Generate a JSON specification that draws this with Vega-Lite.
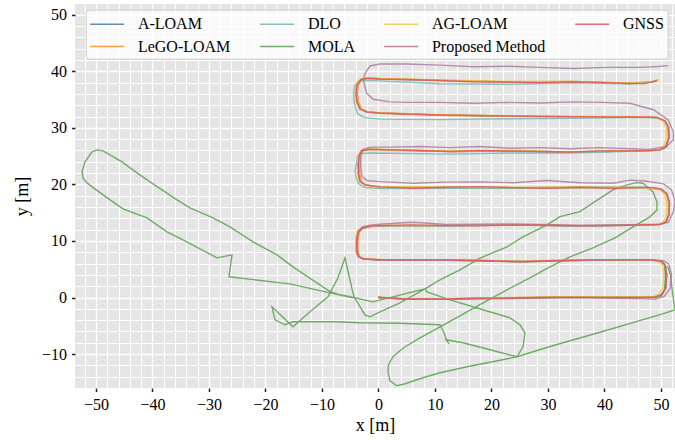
{
"$schema": "https://vega.github.io/schema/vega-lite/v6.json",
"width": 600, "height": 384,
"autosize": "none",
"padding": {"left": 75, "top": 4, "right": 0, "bottom": 52},
"background": "white",
"view": {"fill": "#E5E5E5", "stroke": null},
"config": {"font": "Liberation Serif"},
"datasets": {
"a": [
{"s":"A-LOAM","i":0,"x":0,"y":0},{"s":"A-LOAM","i":1,"x":4.35,"y":-0.28},{"s":"A-LOAM","i":2,"x":12.67,"y":-0.28},{"s":"A-LOAM","i":3,"x":22.4,"y":-0.1},{"s":"A-LOAM","i":4,"x":34.2,"y":0.07},{"s":"A-LOAM","i":5,"x":46.0,"y":0},{"s":"A-LOAM","i":6,"x":48.95,"y":0.12},{"s":"A-LOAM","i":7,"x":50.14,"y":0.48},{"s":"A-LOAM","i":8,"x":50.85,"y":1.66},{"s":"A-LOAM","i":9,"x":51.03,"y":4.0},{"s":"A-LOAM","i":10,"x":50.7,"y":5.8},{"s":"A-LOAM","i":11,"x":50.14,"y":6.36},{"s":"A-LOAM","i":12,"x":48.4,"y":6.66},{"s":"A-LOAM","i":13,"x":37.15,"y":6.66},{"s":"A-LOAM","i":14,"x":25.36,"y":6.36},{"s":"A-LOAM","i":15,"x":12.67,"y":6.66},{"s":"A-LOAM","i":16,"x":0.87,"y":6.66},{"s":"A-LOAM","i":17,"x":-2.67,"y":6.84},{"s":"A-LOAM","i":18,"x":-3.56,"y":7.24},{"s":"A-LOAM","i":19,"x":-3.84,"y":8.13},{"s":"A-LOAM","i":20,"x":-3.84,"y":10.2},{"s":"A-LOAM","i":21,"x":-3.6,"y":11.6},{"s":"A-LOAM","i":22,"x":-2.9,"y":12.3},{"s":"A-LOAM","i":23,"x":-1.49,"y":12.6},{"s":"A-LOAM","i":24,"x":0.28,"y":12.72},{"s":"A-LOAM","i":25,"x":12.09,"y":12.72},{"s":"A-LOAM","i":26,"x":23.88,"y":12.84},{"s":"A-LOAM","i":27,"x":35.68,"y":12.67},{"s":"A-LOAM","i":28,"x":47.49,"y":12.84},{"s":"A-LOAM","i":29,"x":49.84,"y":12.93},{"s":"A-LOAM","i":30,"x":50.9,"y":13.37},{"s":"A-LOAM","i":31,"x":51.43,"y":14.6},{"s":"A-LOAM","i":32,"x":51.52,"y":16.73},{"s":"A-LOAM","i":33,"x":51.08,"y":18.3},{"s":"A-LOAM","i":34,"x":50.0,"y":19.2},{"s":"A-LOAM","i":35,"x":47.7,"y":19.47},{"s":"A-LOAM","i":36,"x":35.68,"y":19.5},{"s":"A-LOAM","i":37,"x":23.88,"y":19.43},{"s":"A-LOAM","i":38,"x":12.09,"y":19.5},{"s":"A-LOAM","i":39,"x":0.28,"y":19.56},{"s":"A-LOAM","i":40,"x":-2.37,"y":19.91},{"s":"A-LOAM","i":41,"x":-3.26,"y":20.49},{"s":"A-LOAM","i":42,"x":-3.56,"y":21.98},{"s":"A-LOAM","i":43,"x":-3.56,"y":23.75},{"s":"A-LOAM","i":44,"x":-3.38,"y":25.21},{"s":"A-LOAM","i":45,"x":-2.96,"y":25.97},{"s":"A-LOAM","i":46,"x":-1.49,"y":26.22},{"s":"A-LOAM","i":47,"x":2.05,"y":26.1},{"s":"A-LOAM","i":48,"x":12.67,"y":25.83},{"s":"A-LOAM","i":49,"x":23.3,"y":25.92},{"s":"A-LOAM","i":50,"x":33.9,"y":25.74},{"s":"A-LOAM","i":51,"x":44.5,"y":25.92},{"s":"A-LOAM","i":52,"x":48.07,"y":26.0},{"s":"A-LOAM","i":53,"x":49.84,"y":26.1},{"s":"A-LOAM","i":54,"x":50.9,"y":26.63},{"s":"A-LOAM","i":55,"x":51.43,"y":28.22},{"s":"A-LOAM","i":56,"x":51.35,"y":30.16},{"s":"A-LOAM","i":57,"x":50.73,"y":31.22},{"s":"A-LOAM","i":58,"x":49.3,"y":31.84},{"s":"A-LOAM","i":59,"x":46.3,"y":31.93},{"s":"A-LOAM","i":60,"x":34.44,"y":31.98},{"s":"A-LOAM","i":61,"x":22.76,"y":32.1},{"s":"A-LOAM","i":62,"x":10.9,"y":32.28},{"s":"A-LOAM","i":63,"x":0.28,"y":32.63},{"s":"A-LOAM","i":64,"x":-2.02,"y":32.81},{"s":"A-LOAM","i":65,"x":-3.26,"y":33.34},{"s":"A-LOAM","i":66,"x":-3.79,"y":34.58},{"s":"A-LOAM","i":67,"x":-3.96,"y":36.17},{"s":"A-LOAM","i":68,"x":-3.79,"y":37.58},{"s":"A-LOAM","i":69,"x":-3.08,"y":38.55},{"s":"A-LOAM","i":70,"x":-1.84,"y":38.76},{"s":"A-LOAM","i":71,"x":0.28,"y":38.64},{"s":"A-LOAM","i":72,"x":10.9,"y":38.37},{"s":"A-LOAM","i":73,"x":22.76,"y":38.1},{"s":"A-LOAM","i":74,"x":34.5,"y":38.16},{"s":"A-LOAM","i":75,"x":44.5,"y":37.84},{"s":"A-LOAM","i":76,"x":48.4,"y":38.1},{"s":"A-LOAM","i":77,"x":49.3,"y":38.37},
{"s":"LeGO-LOAM","i":0,"x":0,"y":0},{"s":"LeGO-LOAM","i":1,"x":4.35,"y":-0.2},{"s":"LeGO-LOAM","i":2,"x":12.67,"y":-0.2},{"s":"LeGO-LOAM","i":3,"x":22.4,"y":-0.05},{"s":"LeGO-LOAM","i":4,"x":34.2,"y":0.1},{"s":"LeGO-LOAM","i":5,"x":46.0,"y":0.05},{"s":"LeGO-LOAM","i":6,"x":48.95,"y":0.15},{"s":"LeGO-LOAM","i":7,"x":50.1,"y":0.5},{"s":"LeGO-LOAM","i":8,"x":50.75,"y":1.66},{"s":"LeGO-LOAM","i":9,"x":50.9,"y":4.0},{"s":"LeGO-LOAM","i":10,"x":50.6,"y":5.8},{"s":"LeGO-LOAM","i":11,"x":50.1,"y":6.3},{"s":"LeGO-LOAM","i":12,"x":48.4,"y":6.6},{"s":"LeGO-LOAM","i":13,"x":37.15,"y":6.6},{"s":"LeGO-LOAM","i":14,"x":25.36,"y":6.3},{"s":"LeGO-LOAM","i":15,"x":12.67,"y":6.6},{"s":"LeGO-LOAM","i":16,"x":0.87,"y":6.6},{"s":"LeGO-LOAM","i":17,"x":-2.4,"y":6.8},{"s":"LeGO-LOAM","i":18,"x":-3.3,"y":7.2},{"s":"LeGO-LOAM","i":19,"x":-3.6,"y":8.1},{"s":"LeGO-LOAM","i":20,"x":-3.6,"y":10.2},{"s":"LeGO-LOAM","i":21,"x":-3.35,"y":11.6},{"s":"LeGO-LOAM","i":22,"x":-2.7,"y":12.25},{"s":"LeGO-LOAM","i":23,"x":-1.3,"y":12.55},{"s":"LeGO-LOAM","i":24,"x":0.28,"y":12.67},{"s":"LeGO-LOAM","i":25,"x":12.09,"y":12.67},{"s":"LeGO-LOAM","i":26,"x":23.88,"y":12.8},{"s":"LeGO-LOAM","i":27,"x":35.68,"y":12.62},{"s":"LeGO-LOAM","i":28,"x":47.49,"y":12.8},{"s":"LeGO-LOAM","i":29,"x":49.8,"y":12.9},{"s":"LeGO-LOAM","i":30,"x":50.8,"y":13.35},{"s":"LeGO-LOAM","i":31,"x":51.3,"y":14.6},{"s":"LeGO-LOAM","i":32,"x":51.4,"y":16.73},{"s":"LeGO-LOAM","i":33,"x":50.95,"y":18.3},{"s":"LeGO-LOAM","i":34,"x":49.9,"y":19.15},{"s":"LeGO-LOAM","i":35,"x":47.7,"y":19.42},{"s":"LeGO-LOAM","i":36,"x":35.68,"y":19.45},{"s":"LeGO-LOAM","i":37,"x":23.88,"y":19.38},{"s":"LeGO-LOAM","i":38,"x":12.09,"y":19.45},{"s":"LeGO-LOAM","i":39,"x":0.28,"y":19.5},{"s":"LeGO-LOAM","i":40,"x":-2.1,"y":19.85},{"s":"LeGO-LOAM","i":41,"x":-3.0,"y":20.45},{"s":"LeGO-LOAM","i":42,"x":-3.3,"y":21.98},{"s":"LeGO-LOAM","i":43,"x":-3.3,"y":23.75},{"s":"LeGO-LOAM","i":44,"x":-3.1,"y":25.2},{"s":"LeGO-LOAM","i":45,"x":-2.7,"y":25.95},{"s":"LeGO-LOAM","i":46,"x":-1.3,"y":26.2},{"s":"LeGO-LOAM","i":47,"x":2.05,"y":26.05},{"s":"LeGO-LOAM","i":48,"x":12.67,"y":25.8},{"s":"LeGO-LOAM","i":49,"x":23.3,"y":25.9},{"s":"LeGO-LOAM","i":50,"x":33.9,"y":25.72},{"s":"LeGO-LOAM","i":51,"x":44.5,"y":25.9},{"s":"LeGO-LOAM","i":52,"x":48.07,"y":25.98},{"s":"LeGO-LOAM","i":53,"x":49.8,"y":26.08},{"s":"LeGO-LOAM","i":54,"x":50.8,"y":26.6},{"s":"LeGO-LOAM","i":55,"x":51.3,"y":28.22},{"s":"LeGO-LOAM","i":56,"x":51.25,"y":30.16},{"s":"LeGO-LOAM","i":57,"x":50.63,"y":31.2},{"s":"LeGO-LOAM","i":58,"x":49.2,"y":31.8},{"s":"LeGO-LOAM","i":59,"x":46.3,"y":31.9},{"s":"LeGO-LOAM","i":60,"x":34.44,"y":31.95},{"s":"LeGO-LOAM","i":61,"x":22.76,"y":32.05},{"s":"LeGO-LOAM","i":62,"x":10.9,"y":32.22},{"s":"LeGO-LOAM","i":63,"x":0.28,"y":32.58},{"s":"LeGO-LOAM","i":64,"x":-1.8,"y":32.78},{"s":"LeGO-LOAM","i":65,"x":-3.0,"y":33.3},{"s":"LeGO-LOAM","i":66,"x":-3.5,"y":34.58},{"s":"LeGO-LOAM","i":67,"x":-3.7,"y":36.17},{"s":"LeGO-LOAM","i":68,"x":-3.55,"y":37.6},{"s":"LeGO-LOAM","i":69,"x":-2.85,"y":38.6},{"s":"LeGO-LOAM","i":70,"x":-1.6,"y":38.82},{"s":"LeGO-LOAM","i":71,"x":0.28,"y":38.72},{"s":"LeGO-LOAM","i":72,"x":10.9,"y":38.42},{"s":"LeGO-LOAM","i":73,"x":22.76,"y":38.15},{"s":"LeGO-LOAM","i":74,"x":34.5,"y":38.2},{"s":"LeGO-LOAM","i":75,"x":44.5,"y":37.9},{"s":"LeGO-LOAM","i":76,"x":48.4,"y":38.15},{"s":"LeGO-LOAM","i":77,"x":49.5,"y":38.45},
{"s":"DLO","i":0,"x":0,"y":0},{"s":"DLO","i":1,"x":4.35,"y":-0.25},{"s":"DLO","i":2,"x":12.67,"y":-0.25},{"s":"DLO","i":3,"x":22.4,"y":-0.1},{"s":"DLO","i":4,"x":34.2,"y":0.05},{"s":"DLO","i":5,"x":46.0,"y":0},{"s":"DLO","i":6,"x":48.95,"y":0.1},{"s":"DLO","i":7,"x":50.14,"y":0.45},{"s":"DLO","i":8,"x":50.85,"y":1.66},{"s":"DLO","i":9,"x":51.0,"y":4.0},{"s":"DLO","i":10,"x":50.65,"y":5.8},{"s":"DLO","i":11,"x":50.1,"y":6.35},{"s":"DLO","i":12,"x":48.4,"y":6.62},{"s":"DLO","i":13,"x":37.15,"y":6.6},{"s":"DLO","i":14,"x":25.36,"y":6.3},{"s":"DLO","i":15,"x":12.67,"y":6.6},{"s":"DLO","i":16,"x":0.87,"y":6.6},{"s":"DLO","i":17,"x":-2.7,"y":6.8},{"s":"DLO","i":18,"x":-3.6,"y":7.2},{"s":"DLO","i":19,"x":-3.9,"y":8.1},{"s":"DLO","i":20,"x":-3.9,"y":10.2},{"s":"DLO","i":21,"x":-3.65,"y":11.6},{"s":"DLO","i":22,"x":-2.95,"y":12.25},{"s":"DLO","i":23,"x":-1.5,"y":12.55},{"s":"DLO","i":24,"x":0.28,"y":12.68},{"s":"DLO","i":25,"x":12.09,"y":12.68},{"s":"DLO","i":26,"x":23.88,"y":12.8},{"s":"DLO","i":27,"x":35.68,"y":12.62},{"s":"DLO","i":28,"x":47.49,"y":12.8},{"s":"DLO","i":29,"x":49.84,"y":12.9},{"s":"DLO","i":30,"x":50.9,"y":13.35},{"s":"DLO","i":31,"x":51.43,"y":14.6},{"s":"DLO","i":32,"x":51.5,"y":16.73},{"s":"DLO","i":33,"x":51.05,"y":18.3},{"s":"DLO","i":34,"x":49.95,"y":19.15},{"s":"DLO","i":35,"x":47.7,"y":19.4},{"s":"DLO","i":36,"x":35.68,"y":19.4},{"s":"DLO","i":37,"x":23.88,"y":19.3},{"s":"DLO","i":38,"x":12.09,"y":19.3},{"s":"DLO","i":39,"x":0.28,"y":19.25},{"s":"DLO","i":40,"x":-2.5,"y":19.5},{"s":"DLO","i":41,"x":-3.6,"y":20.2},{"s":"DLO","i":42,"x":-4.0,"y":21.5},{"s":"DLO","i":43,"x":-4.1,"y":22.5},{"s":"DLO","i":44,"x":-3.84,"y":23.75},{"s":"DLO","i":45,"x":-3.75,"y":25.0},{"s":"DLO","i":46,"x":-3.3,"y":25.45},{"s":"DLO","i":47,"x":-1.5,"y":25.55},{"s":"DLO","i":48,"x":2.05,"y":25.5},{"s":"DLO","i":49,"x":12.67,"y":25.35},{"s":"DLO","i":50,"x":23.3,"y":25.55},{"s":"DLO","i":51,"x":33.9,"y":25.55},{"s":"DLO","i":52,"x":44.5,"y":25.85},{"s":"DLO","i":53,"x":48.07,"y":25.98},{"s":"DLO","i":54,"x":49.84,"y":26.08},{"s":"DLO","i":55,"x":50.9,"y":26.6},{"s":"DLO","i":56,"x":51.43,"y":28.22},{"s":"DLO","i":57,"x":51.35,"y":30.16},{"s":"DLO","i":58,"x":50.73,"y":31.2},{"s":"DLO","i":59,"x":49.3,"y":31.8},{"s":"DLO","i":60,"x":46.3,"y":31.85},{"s":"DLO","i":61,"x":34.44,"y":31.7},{"s":"DLO","i":62,"x":22.76,"y":31.6},{"s":"DLO","i":63,"x":10.9,"y":31.45},{"s":"DLO","i":64,"x":0.28,"y":31.55},{"s":"DLO","i":65,"x":-2.4,"y":31.8},{"s":"DLO","i":66,"x":-3.7,"y":32.5},{"s":"DLO","i":67,"x":-4.25,"y":34.3},{"s":"DLO","i":68,"x":-4.4,"y":36.17},{"s":"DLO","i":69,"x":-4.2,"y":37.5},{"s":"DLO","i":70,"x":-3.5,"y":38.3},{"s":"DLO","i":71,"x":-2.1,"y":38.4},{"s":"DLO","i":72,"x":0.28,"y":38.3},{"s":"DLO","i":73,"x":10.9,"y":37.8},{"s":"DLO","i":74,"x":22.76,"y":37.7},{"s":"DLO","i":75,"x":34.5,"y":37.95},{"s":"DLO","i":76,"x":44.5,"y":37.8},{"s":"DLO","i":77,"x":48.4,"y":38.08},{"s":"DLO","i":78,"x":49.3,"y":38.35},
{"s":"MOLA","i":0,"x":0,"y":0},{"s":"MOLA","i":1,"x":4.35,"y":-0.19},{"s":"MOLA","i":2,"x":12.67,"y":-0.19},{"s":"MOLA","i":3,"x":22.41,"y":-0.09},{"s":"MOLA","i":4,"x":34.09,"y":0.07},{"s":"MOLA","i":5,"x":45.95,"y":0.04},{"s":"MOLA","i":6,"x":48.96,"y":0.04},{"s":"MOLA","i":7,"x":50.05,"y":0.3},{"s":"MOLA","i":8,"x":50.64,"y":1.36},{"s":"MOLA","i":9,"x":50.81,"y":3.48},{"s":"MOLA","i":10,"x":50.73,"y":5.42},{"s":"MOLA","i":11,"x":51.26,"y":5.34},{"s":"MOLA","i":12,"x":51.7,"y":4.01},{"s":"MOLA","i":13,"x":51.96,"y":1.71},{"s":"MOLA","i":14,"x":52.23,"y":-0.41},{"s":"MOLA","i":15,"x":52.5,"y":-2.17},{"s":"MOLA","i":16,"x":50.73,"y":-2.76},{"s":"MOLA","i":17,"x":47.77,"y":-3.64},{"s":"MOLA","i":18,"x":39.22,"y":-6.15},{"s":"MOLA","i":19,"x":30.37,"y":-8.66},{"s":"MOLA","i":20,"x":24.53,"y":-10.48},{"s":"MOLA","i":21,"x":19.75,"y":-11.45},{"s":"MOLA","i":22,"x":15.68,"y":-12.24},{"s":"MOLA","i":23,"x":10.9,"y":-13.3},{"s":"MOLA","i":24,"x":7.89,"y":-14.19},{"s":"MOLA","i":25,"x":4.71,"y":-15.25},{"s":"MOLA","i":26,"x":3.29,"y":-15.6},{"s":"MOLA","i":27,"x":2.05,"y":-14.72},{"s":"MOLA","i":28,"x":1.7,"y":-13.13},{"s":"MOLA","i":29,"x":1.79,"y":-11.89},{"s":"MOLA","i":30,"x":2.58,"y":-10.48},{"s":"MOLA","i":31,"x":3.82,"y":-9.42},{"s":"MOLA","i":32,"x":4.71,"y":-8.71},{"s":"MOLA","i":33,"x":7.36,"y":-7.12},{"s":"MOLA","i":34,"x":10.9,"y":-5.18},{"s":"MOLA","i":35,"x":14.44,"y":-3.23},{"s":"MOLA","i":36,"x":18.51,"y":-0.94},{"s":"MOLA","i":37,"x":22.76,"y":1.36},{"s":"MOLA","i":38,"x":26.83,"y":3.48},{"s":"MOLA","i":39,"x":30.02,"y":5.25},{"s":"MOLA","i":40,"x":33.91,"y":7.19},{"s":"MOLA","i":41,"x":37.98,"y":8.78},{"s":"MOLA","i":42,"x":41.88,"y":10.55},{"s":"MOLA","i":43,"x":45.06,"y":12.49},{"s":"MOLA","i":44,"x":48.07,"y":14.26},{"s":"MOLA","i":45,"x":49.31,"y":15.49},{"s":"MOLA","i":46,"x":49.31,"y":16.91},{"s":"MOLA","i":47,"x":48.6,"y":18.67},{"s":"MOLA","i":48,"x":46.83,"y":20.21},{"s":"MOLA","i":49,"x":45.77,"y":20.32},{"s":"MOLA","i":50,"x":44.0,"y":19.91},{"s":"MOLA","i":51,"x":41.52,"y":19.03},{"s":"MOLA","i":52,"x":37.98,"y":16.73},{"s":"MOLA","i":53,"x":35.68,"y":15.19},{"s":"MOLA","i":54,"x":32.14,"y":14.31},{"s":"MOLA","i":55,"x":29.84,"y":12.84},{"s":"MOLA","i":56,"x":25.59,"y":10.72},{"s":"MOLA","i":57,"x":22.76,"y":8.96},{"s":"MOLA","i":58,"x":17.98,"y":6.96},{"s":"MOLA","i":59,"x":14.44,"y":4.89},{"s":"MOLA","i":60,"x":10.9,"y":3.13},{"s":"MOLA","i":61,"x":8.25,"y":1.54},{"s":"MOLA","i":62,"x":3.82,"y":-0.94},{"s":"MOLA","i":63,"x":0.28,"y":-2.53},{"s":"MOLA","i":64,"x":-1.49,"y":-3.41},{"s":"MOLA","i":65,"x":-2.37,"y":-3.06},{"s":"MOLA","i":66,"x":-4.32,"y":0.12},{"s":"MOLA","i":67,"x":-4.67,"y":1.54},{"s":"MOLA","i":68,"x":-5.91,"y":7.01},{"s":"MOLA","i":69,"x":-7.15,"y":3.48},{"s":"MOLA","i":70,"x":-8.92,"y":0.12},{"s":"MOLA","i":71,"x":-12.11,"y":-2.53},{"s":"MOLA","i":72,"x":-15.12,"y":-5.18},{"s":"MOLA","i":73,"x":-18.83,"y":-1.64},{"s":"MOLA","i":74,"x":-18.3,"y":-3.94},{"s":"MOLA","i":75,"x":-16.53,"y":-4.82},{"s":"MOLA","i":76,"x":-15.12,"y":-4.29},{"s":"MOLA","i":77,"x":-7.33,"y":-4.29},{"s":"MOLA","i":78,"x":-3.26,"y":-4.47},{"s":"MOLA","i":79,"x":3.82,"y":-4.56},{"s":"MOLA","i":80,"x":10.9,"y":-4.82},{"s":"MOLA","i":81,"x":11.61,"y":-6.24},{"s":"MOLA","i":82,"x":12.14,"y":-7.65},{"s":"MOLA","i":83,"x":12.49,"y":-8.18},{"s":"MOLA","i":84,"x":11.96,"y":-7.47},{"s":"MOLA","i":85,"x":14.97,"y":-8.0},{"s":"MOLA","i":86,"x":19.75,"y":-9.24},{"s":"MOLA","i":87,"x":24.53,"y":-10.48},{"s":"MOLA","i":88,"x":25.59,"y":-8.71},{"s":"MOLA","i":89,"x":25.95,"y":-6.24},{"s":"MOLA","i":90,"x":25.06,"y":-4.82},{"s":"MOLA","i":91,"x":23.29,"y":-3.59},{"s":"MOLA","i":92,"x":18.51,"y":-2.17},{"s":"MOLA","i":93,"x":12.67,"y":-0.41},{"s":"MOLA","i":94,"x":8.6,"y":1.01},{"s":"MOLA","i":95,"x":8.25,"y":1.54},{"s":"MOLA","i":96,"x":-0.96,"y":-0.76},{"s":"MOLA","i":97,"x":-4.14,"y":-0.05},{"s":"MOLA","i":98,"x":-6.8,"y":0.48},{"s":"MOLA","i":99,"x":-8.57,"y":1.06},{"s":"MOLA","i":100,"x":-15.12,"y":5.42},{"s":"MOLA","i":101,"x":-17.95,"y":7.54},{"s":"MOLA","i":102,"x":-22.19,"y":9.84},{"s":"MOLA","i":103,"x":-26.27,"y":12.49},{"s":"MOLA","i":104,"x":-29.27,"y":14.08},{"s":"MOLA","i":105,"x":-33.35,"y":15.85},{"s":"MOLA","i":106,"x":-35.65,"y":17.26},{"s":"MOLA","i":107,"x":-40.42,"y":20.44},{"s":"MOLA","i":108,"x":-42.73,"y":22.03},{"s":"MOLA","i":109,"x":-45.38,"y":23.98},{"s":"MOLA","i":110,"x":-48.74,"y":25.92},{"s":"MOLA","i":111,"x":-49.81,"y":26.1},{"s":"MOLA","i":112,"x":-50.69,"y":25.74},{"s":"MOLA","i":113,"x":-51.93,"y":23.98},{"s":"MOLA","i":114,"x":-52.46,"y":22.21},{"s":"MOLA","i":115,"x":-52.28,"y":21.15},{"s":"MOLA","i":116,"x":-51.58,"y":20.27},{"s":"MOLA","i":117,"x":-48.74,"y":18.14},{"s":"MOLA","i":118,"x":-45.2,"y":15.67},{"s":"MOLA","i":119,"x":-40.96,"y":14.08},{"s":"MOLA","i":120,"x":-37.42,"y":11.61},{"s":"MOLA","i":121,"x":-34.58,"y":10.19},{"s":"MOLA","i":122,"x":-28.57,"y":7.01},{"s":"MOLA","i":123,"x":-25.91,"y":7.54},{"s":"MOLA","i":124,"x":-26.44,"y":3.66},{"s":"MOLA","i":125,"x":-15.65,"y":2.42},{"s":"MOLA","i":126,"x":-8.57,"y":0.83},{"s":"MOLA","i":127,"x":-4.5,"y":-0.05},
{"s":"AG-LOAM","i":0,"x":0,"y":0},{"s":"AG-LOAM","i":1,"x":4.35,"y":-0.15},{"s":"AG-LOAM","i":2,"x":12.67,"y":-0.15},{"s":"AG-LOAM","i":3,"x":22.4,"y":0},{"s":"AG-LOAM","i":4,"x":34.2,"y":0.15},{"s":"AG-LOAM","i":5,"x":46.0,"y":0.1},{"s":"AG-LOAM","i":6,"x":48.7,"y":0.2},{"s":"AG-LOAM","i":7,"x":49.7,"y":0.6},{"s":"AG-LOAM","i":8,"x":50.35,"y":1.7},{"s":"AG-LOAM","i":9,"x":50.5,"y":4.0},{"s":"AG-LOAM","i":10,"x":50.25,"y":5.7},{"s":"AG-LOAM","i":11,"x":49.8,"y":6.3},{"s":"AG-LOAM","i":12,"x":48.4,"y":6.6},{"s":"AG-LOAM","i":13,"x":37.15,"y":6.7},{"s":"AG-LOAM","i":14,"x":25.36,"y":6.4},{"s":"AG-LOAM","i":15,"x":12.67,"y":6.7},{"s":"AG-LOAM","i":16,"x":0.87,"y":6.7},{"s":"AG-LOAM","i":17,"x":-2.8,"y":6.9},{"s":"AG-LOAM","i":18,"x":-3.7,"y":7.3},{"s":"AG-LOAM","i":19,"x":-4.0,"y":8.2},{"s":"AG-LOAM","i":20,"x":-4.0,"y":10.2},{"s":"AG-LOAM","i":21,"x":-3.75,"y":11.65},{"s":"AG-LOAM","i":22,"x":-3.05,"y":12.35},{"s":"AG-LOAM","i":23,"x":-1.6,"y":12.65},{"s":"AG-LOAM","i":24,"x":0.28,"y":12.78},{"s":"AG-LOAM","i":25,"x":12.09,"y":12.78},{"s":"AG-LOAM","i":26,"x":23.88,"y":12.9},{"s":"AG-LOAM","i":27,"x":35.68,"y":12.72},{"s":"AG-LOAM","i":28,"x":47.49,"y":12.88},{"s":"AG-LOAM","i":29,"x":49.6,"y":12.95},{"s":"AG-LOAM","i":30,"x":50.5,"y":13.4},{"s":"AG-LOAM","i":31,"x":51.0,"y":14.6},{"s":"AG-LOAM","i":32,"x":51.05,"y":16.73},{"s":"AG-LOAM","i":33,"x":50.65,"y":18.3},{"s":"AG-LOAM","i":34,"x":49.7,"y":19.15},{"s":"AG-LOAM","i":35,"x":47.7,"y":19.42},{"s":"AG-LOAM","i":36,"x":35.68,"y":19.55},{"s":"AG-LOAM","i":37,"x":23.88,"y":19.5},{"s":"AG-LOAM","i":38,"x":12.09,"y":19.55},{"s":"AG-LOAM","i":39,"x":0.28,"y":19.62},{"s":"AG-LOAM","i":40,"x":-2.5,"y":19.95},{"s":"AG-LOAM","i":41,"x":-3.4,"y":20.55},{"s":"AG-LOAM","i":42,"x":-3.7,"y":21.98},{"s":"AG-LOAM","i":43,"x":-3.7,"y":23.75},{"s":"AG-LOAM","i":44,"x":-3.5,"y":25.25},{"s":"AG-LOAM","i":45,"x":-3.1,"y":26.02},{"s":"AG-LOAM","i":46,"x":-1.6,"y":26.3},{"s":"AG-LOAM","i":47,"x":2.05,"y":26.15},{"s":"AG-LOAM","i":48,"x":12.67,"y":25.9},{"s":"AG-LOAM","i":49,"x":23.3,"y":25.98},{"s":"AG-LOAM","i":50,"x":33.9,"y":25.8},{"s":"AG-LOAM","i":51,"x":44.5,"y":25.95},{"s":"AG-LOAM","i":52,"x":48.07,"y":26.05},{"s":"AG-LOAM","i":53,"x":49.6,"y":26.15},{"s":"AG-LOAM","i":54,"x":50.5,"y":26.65},{"s":"AG-LOAM","i":55,"x":51.0,"y":28.22},{"s":"AG-LOAM","i":56,"x":50.95,"y":30.16},{"s":"AG-LOAM","i":57,"x":50.4,"y":31.2},{"s":"AG-LOAM","i":58,"x":49.1,"y":31.85},{"s":"AG-LOAM","i":59,"x":46.3,"y":31.98},{"s":"AG-LOAM","i":60,"x":34.44,"y":32.05},{"s":"AG-LOAM","i":61,"x":22.76,"y":32.15},{"s":"AG-LOAM","i":62,"x":10.9,"y":32.33},{"s":"AG-LOAM","i":63,"x":0.28,"y":32.7},{"s":"AG-LOAM","i":64,"x":-2.15,"y":32.88},{"s":"AG-LOAM","i":65,"x":-3.4,"y":33.4},{"s":"AG-LOAM","i":66,"x":-3.95,"y":34.58},{"s":"AG-LOAM","i":67,"x":-4.1,"y":36.17},{"s":"AG-LOAM","i":68,"x":-3.95,"y":37.6},{"s":"AG-LOAM","i":69,"x":-3.2,"y":38.65},{"s":"AG-LOAM","i":70,"x":-1.95,"y":38.88},{"s":"AG-LOAM","i":71,"x":0.28,"y":38.75},{"s":"AG-LOAM","i":72,"x":10.9,"y":38.45},{"s":"AG-LOAM","i":73,"x":22.76,"y":38.2},{"s":"AG-LOAM","i":74,"x":34.5,"y":38.22},{"s":"AG-LOAM","i":75,"x":44.5,"y":37.92},{"s":"AG-LOAM","i":76,"x":48.6,"y":38.2},{"s":"AG-LOAM","i":77,"x":49.7,"y":38.55},
{"s":"Proposed Method","i":0,"x":0,"y":0},{"s":"Proposed Method","i":1,"x":4.35,"y":-0.2},{"s":"Proposed Method","i":2,"x":12.67,"y":-0.3},{"s":"Proposed Method","i":3,"x":22.4,"y":-0.2},{"s":"Proposed Method","i":4,"x":34.2,"y":-0.05},{"s":"Proposed Method","i":5,"x":46.0,"y":-0.2},{"s":"Proposed Method","i":6,"x":49.0,"y":-0.25},{"s":"Proposed Method","i":7,"x":50.6,"y":0.2},{"s":"Proposed Method","i":8,"x":51.6,"y":1.6},{"s":"Proposed Method","i":9,"x":51.9,"y":4.0},{"s":"Proposed Method","i":10,"x":51.4,"y":5.9},{"s":"Proposed Method","i":11,"x":50.5,"y":6.5},{"s":"Proposed Method","i":12,"x":48.4,"y":6.7},{"s":"Proposed Method","i":13,"x":37.15,"y":6.6},{"s":"Proposed Method","i":14,"x":25.36,"y":6.3},{"s":"Proposed Method","i":15,"x":12.67,"y":6.6},{"s":"Proposed Method","i":16,"x":0.87,"y":6.6},{"s":"Proposed Method","i":17,"x":-2.67,"y":6.8},{"s":"Proposed Method","i":18,"x":-3.5,"y":7.3},{"s":"Proposed Method","i":19,"x":-3.8,"y":8.2},{"s":"Proposed Method","i":20,"x":-3.8,"y":10.3},{"s":"Proposed Method","i":21,"x":-3.5,"y":11.8},{"s":"Proposed Method","i":22,"x":-2.8,"y":12.5},{"s":"Proposed Method","i":23,"x":-1.49,"y":12.8},{"s":"Proposed Method","i":24,"x":0.28,"y":12.95},{"s":"Proposed Method","i":25,"x":6.0,"y":13.3},{"s":"Proposed Method","i":26,"x":12.09,"y":12.9},{"s":"Proposed Method","i":27,"x":23.88,"y":13.0},{"s":"Proposed Method","i":28,"x":35.68,"y":12.8},{"s":"Proposed Method","i":29,"x":47.49,"y":12.9},{"s":"Proposed Method","i":30,"x":49.84,"y":12.95},{"s":"Proposed Method","i":31,"x":51.3,"y":13.3},{"s":"Proposed Method","i":32,"x":52.2,"y":15.1},{"s":"Proposed Method","i":33,"x":52.5,"y":17.0},{"s":"Proposed Method","i":34,"x":51.9,"y":19.0},{"s":"Proposed Method","i":35,"x":50.5,"y":20.1},{"s":"Proposed Method","i":36,"x":47.2,"y":20.6},{"s":"Proposed Method","i":37,"x":44.5,"y":20.75},{"s":"Proposed Method","i":38,"x":41.58,"y":20.2},{"s":"Proposed Method","i":39,"x":35.68,"y":20.3},{"s":"Proposed Method","i":40,"x":29.8,"y":20.7},{"s":"Proposed Method","i":41,"x":23.88,"y":20.3},{"s":"Proposed Method","i":42,"x":17.98,"y":20.45},{"s":"Proposed Method","i":43,"x":12.09,"y":20.4},{"s":"Proposed Method","i":44,"x":6.18,"y":20.2},{"s":"Proposed Method","i":45,"x":0.28,"y":20.5},{"s":"Proposed Method","i":46,"x":-2.0,"y":20.7},{"s":"Proposed Method","i":47,"x":-2.9,"y":21.4},{"s":"Proposed Method","i":48,"x":-3.13,"y":23.0},{"s":"Proposed Method","i":49,"x":-3.13,"y":25.0},{"s":"Proposed Method","i":50,"x":-2.7,"y":26.2},{"s":"Proposed Method","i":51,"x":-1.5,"y":26.6},{"s":"Proposed Method","i":52,"x":2.05,"y":26.6},{"s":"Proposed Method","i":53,"x":7.4,"y":26.7},{"s":"Proposed Method","i":54,"x":12.67,"y":26.5},{"s":"Proposed Method","i":55,"x":17.98,"y":26.7},{"s":"Proposed Method","i":56,"x":23.3,"y":26.4},{"s":"Proposed Method","i":57,"x":28.6,"y":26.5},{"s":"Proposed Method","i":58,"x":33.9,"y":26.3},{"s":"Proposed Method","i":59,"x":39.2,"y":26.5},{"s":"Proposed Method","i":60,"x":44.5,"y":26.3},{"s":"Proposed Method","i":61,"x":48.0,"y":26.2},{"s":"Proposed Method","i":62,"x":51.0,"y":26.7},{"s":"Proposed Method","i":63,"x":52.2,"y":27.9},{"s":"Proposed Method","i":64,"x":52.2,"y":29.3},{"s":"Proposed Method","i":65,"x":51.3,"y":31.4},{"s":"Proposed Method","i":66,"x":48.7,"y":33.2},{"s":"Proposed Method","i":67,"x":44.5,"y":34.35},{"s":"Proposed Method","i":68,"x":39.5,"y":34.5},{"s":"Proposed Method","i":69,"x":34.5,"y":34.6},{"s":"Proposed Method","i":70,"x":28.6,"y":34.4},{"s":"Proposed Method","i":71,"x":22.76,"y":34.5},{"s":"Proposed Method","i":72,"x":16.8,"y":34.35},{"s":"Proposed Method","i":73,"x":10.9,"y":34.5},{"s":"Proposed Method","i":74,"x":5.0,"y":34.5},{"s":"Proposed Method","i":75,"x":2.05,"y":34.6},{"s":"Proposed Method","i":76,"x":-0.9,"y":35.05},{"s":"Proposed Method","i":77,"x":-2.07,"y":36.1},{"s":"Proposed Method","i":78,"x":-2.67,"y":38.46},{"s":"Proposed Method","i":79,"x":-2.37,"y":39.65},{"s":"Proposed Method","i":80,"x":-1.49,"y":40.94},{"s":"Proposed Method","i":81,"x":0.28,"y":41.3},{"s":"Proposed Method","i":82,"x":5.0,"y":41.3},{"s":"Proposed Method","i":83,"x":10.9,"y":41.1},{"s":"Proposed Method","i":84,"x":16.8,"y":40.8},{"s":"Proposed Method","i":85,"x":22.76,"y":40.9},{"s":"Proposed Method","i":86,"x":28.6,"y":40.7},{"s":"Proposed Method","i":87,"x":34.5,"y":40.5},{"s":"Proposed Method","i":88,"x":40.4,"y":40.7},{"s":"Proposed Method","i":89,"x":46.3,"y":40.7},{"s":"Proposed Method","i":90,"x":49.5,"y":40.85},{"s":"Proposed Method","i":91,"x":51.3,"y":41.0},
{"s":"GNSS","i":0,"x":0,"y":0},{"s":"GNSS","i":1,"x":0.3,"y":0.07},{"s":"GNSS","i":2,"x":4.35,"y":-0.28},{"s":"GNSS","i":3,"x":8.55,"y":-0.28},{"s":"GNSS","i":4,"x":12.67,"y":-0.28},{"s":"GNSS","i":5,"x":16.8,"y":-0.1},{"s":"GNSS","i":6,"x":22.4,"y":-0.1},{"s":"GNSS","i":7,"x":28.25,"y":0},{"s":"GNSS","i":8,"x":34.2,"y":0.07},{"s":"GNSS","i":9,"x":40.1,"y":0},{"s":"GNSS","i":10,"x":46.0,"y":0},{"s":"GNSS","i":11,"x":48.95,"y":0.12},{"s":"GNSS","i":12,"x":50.14,"y":0.48},{"s":"GNSS","i":13,"x":50.85,"y":1.66},{"s":"GNSS","i":14,"x":51.03,"y":4.0},{"s":"GNSS","i":15,"x":50.7,"y":5.8},{"s":"GNSS","i":16,"x":50.14,"y":6.36},{"s":"GNSS","i":17,"x":48.4,"y":6.66},{"s":"GNSS","i":18,"x":43.06,"y":6.66},{"s":"GNSS","i":19,"x":37.15,"y":6.66},{"s":"GNSS","i":20,"x":31.26,"y":6.54},{"s":"GNSS","i":21,"x":25.36,"y":6.36},{"s":"GNSS","i":22,"x":18.57,"y":6.54},{"s":"GNSS","i":23,"x":12.67,"y":6.66},{"s":"GNSS","i":24,"x":6.78,"y":6.66},{"s":"GNSS","i":25,"x":0.87,"y":6.66},{"s":"GNSS","i":26,"x":-2.67,"y":6.84},{"s":"GNSS","i":27,"x":-3.56,"y":7.24},{"s":"GNSS","i":28,"x":-3.84,"y":8.13},{"s":"GNSS","i":29,"x":-3.84,"y":10.2},{"s":"GNSS","i":30,"x":-3.6,"y":11.6},{"s":"GNSS","i":31,"x":-2.9,"y":12.3},{"s":"GNSS","i":32,"x":-1.49,"y":12.6},{"s":"GNSS","i":33,"x":0.28,"y":12.72},{"s":"GNSS","i":34,"x":6.18,"y":12.84},{"s":"GNSS","i":35,"x":12.09,"y":12.72},{"s":"GNSS","i":36,"x":17.98,"y":12.67},{"s":"GNSS","i":37,"x":23.88,"y":12.84},{"s":"GNSS","i":38,"x":29.79,"y":12.79},{"s":"GNSS","i":39,"x":35.68,"y":12.67},{"s":"GNSS","i":40,"x":41.58,"y":12.72},{"s":"GNSS","i":41,"x":47.49,"y":12.84},{"s":"GNSS","i":42,"x":49.84,"y":12.93},{"s":"GNSS","i":43,"x":50.9,"y":13.37},{"s":"GNSS","i":44,"x":51.43,"y":14.6},{"s":"GNSS","i":45,"x":51.52,"y":16.73},{"s":"GNSS","i":46,"x":51.08,"y":18.3},{"s":"GNSS","i":47,"x":50.0,"y":19.2},{"s":"GNSS","i":48,"x":47.7,"y":19.47},{"s":"GNSS","i":49,"x":41.58,"y":19.33},{"s":"GNSS","i":50,"x":35.68,"y":19.5},{"s":"GNSS","i":51,"x":29.79,"y":19.33},{"s":"GNSS","i":52,"x":23.88,"y":19.43},{"s":"GNSS","i":53,"x":17.98,"y":19.61},{"s":"GNSS","i":54,"x":12.09,"y":19.5},{"s":"GNSS","i":55,"x":6.18,"y":19.33},{"s":"GNSS","i":56,"x":0.28,"y":19.56},{"s":"GNSS","i":57,"x":-2.37,"y":19.91},{"s":"GNSS","i":58,"x":-3.26,"y":20.49},{"s":"GNSS","i":59,"x":-3.56,"y":21.98},{"s":"GNSS","i":60,"x":-3.56,"y":23.75},{"s":"GNSS","i":61,"x":-3.38,"y":25.21},{"s":"GNSS","i":62,"x":-2.96,"y":25.97},{"s":"GNSS","i":63,"x":-1.49,"y":26.22},{"s":"GNSS","i":64,"x":2.05,"y":26.1},{"s":"GNSS","i":65,"x":7.36,"y":26.0},{"s":"GNSS","i":66,"x":12.67,"y":25.83},{"s":"GNSS","i":67,"x":17.98,"y":26.0},{"s":"GNSS","i":68,"x":23.3,"y":25.92},{"s":"GNSS","i":69,"x":28.6,"y":25.83},{"s":"GNSS","i":70,"x":33.9,"y":25.74},{"s":"GNSS","i":71,"x":39.2,"y":25.92},{"s":"GNSS","i":72,"x":44.5,"y":25.92},{"s":"GNSS","i":73,"x":48.07,"y":26.0},{"s":"GNSS","i":74,"x":49.84,"y":26.1},{"s":"GNSS","i":75,"x":50.9,"y":26.63},{"s":"GNSS","i":76,"x":51.43,"y":28.22},{"s":"GNSS","i":77,"x":51.35,"y":30.16},{"s":"GNSS","i":78,"x":50.73,"y":31.22},{"s":"GNSS","i":79,"x":49.3,"y":31.84},{"s":"GNSS","i":80,"x":46.3,"y":31.93},{"s":"GNSS","i":81,"x":40.99,"y":31.93},{"s":"GNSS","i":82,"x":34.44,"y":31.98},{"s":"GNSS","i":83,"x":28.6,"y":32.01},{"s":"GNSS","i":84,"x":22.76,"y":32.1},{"s":"GNSS","i":85,"x":17.1,"y":32.19},{"s":"GNSS","i":86,"x":10.9,"y":32.28},{"s":"GNSS","i":87,"x":4.7,"y":32.46},{"s":"GNSS","i":88,"x":0.28,"y":32.63},{"s":"GNSS","i":89,"x":-2.02,"y":32.81},{"s":"GNSS","i":90,"x":-3.26,"y":33.34},{"s":"GNSS","i":91,"x":-3.79,"y":34.58},{"s":"GNSS","i":92,"x":-3.96,"y":36.17},{"s":"GNSS","i":93,"x":-3.79,"y":37.58},{"s":"GNSS","i":94,"x":-3.08,"y":38.55},{"s":"GNSS","i":95,"x":-1.84,"y":38.76},{"s":"GNSS","i":96,"x":0.28,"y":38.64},{"s":"GNSS","i":97,"x":5.0,"y":38.55},{"s":"GNSS","i":98,"x":10.9,"y":38.37},{"s":"GNSS","i":99,"x":16.8,"y":38.16},{"s":"GNSS","i":100,"x":22.76,"y":38.1},{"s":"GNSS","i":101,"x":28.6,"y":37.99},{"s":"GNSS","i":102,"x":34.5,"y":38.16},{"s":"GNSS","i":103,"x":40.4,"y":37.99},{"s":"GNSS","i":104,"x":44.5,"y":37.84},{"s":"GNSS","i":105,"x":47.15,"y":37.84},{"s":"GNSS","i":106,"x":48.4,"y":38.1},{"s":"GNSS","i":107,"x":49.3,"y":38.37}
]
},
"data": {"name": "a"},
"mark": {"type": "line", "strokeWidth": 1.4, "opacity": 0.85, "clip": true},
"encoding": {
"x": {"field": "x", "type": "quantitative",
 "scale": {"domain": [-53.7, 52.5], "nice": false, "zero": false},
 "axis": {"title": "x [m]",
  "values": [-52,-50,-48,-46,-44,-42,-40,-38,-36,-34,-32,-30,-28,-26,-24,-22,-20,-18,-16,-14,-12,-10,-8,-6,-4,-2,0,2,4,6,8,10,12,14,16,18,20,22,24,26,28,30,32,34,36,38,40,42,44,46,48,50,52],
  "labelExpr": "datum.value % 10 === 0 ? datum.label : ''",
  "labelOverlap": false, "labelFlush": false, "domain": false,
  "grid": true, "gridColor": "#ffffff", "gridOpacity": 1,
  "gridWidth": {"condition": {"test": "datum.value % 10 === 0", "value": 1.3}, "value": 1.0},
  "tickSize": 3.5, "tickWidth": 1.5, "tickColor": "#222222",
  "tickOpacity": {"condition": {"test": "datum.value % 10 === 0", "value": 1}, "value": 0},
  "labelFontSize": 16, "labelColor": "#000000", "labelPadding": 5,
  "titleFontSize": 18, "titleFontWeight": "normal", "titleColor": "#000000", "titlePadding": 4}},
"y": {"field": "y", "type": "quantitative",
 "scale": {"domain": [-16.0, 51.9], "nice": false, "zero": false},
 "axis": {"title": "y [m]",
  "values": [-16,-14,-12,-10,-8,-6,-4,-2,0,2,4,6,8,10,12,14,16,18,20,22,24,26,28,30,32,34,36,38,40,42,44,46,48,50],
  "labelExpr": "datum.value % 10 === 0 ? datum.label : ''",
  "labelOverlap": false, "labelFlush": false, "domain": false,
  "grid": true, "gridColor": "#ffffff", "gridOpacity": 1,
  "gridWidth": {"condition": {"test": "datum.value % 10 === 0", "value": 1.3}, "value": 1.0},
  "tickSize": 3.5, "tickWidth": 1.5, "tickColor": "#222222",
  "tickOpacity": {"condition": {"test": "datum.value % 10 === 0", "value": 1}, "value": 0},
  "labelFontSize": 16, "labelColor": "#000000", "labelPadding": 5,
  "titleFontSize": 18, "titleFontWeight": "normal", "titleColor": "#000000", "titlePadding": 10}},
"color": {"field": "s", "type": "nominal",
 "scale": {"domain": ["A-LOAM","LeGO-LOAM","DLO","MOLA","AG-LOAM","Proposed Method","GNSS"],
  "range": ["#4e79a7","#f28e2b","#76b7b2","#59a14f","#edc948","#b07aa1","#e15759"]},
 "legend": {"orient": "none", "legendX": 10.7, "legendY": 5.7, "columns": 4, "title": null,
  "symbolType": "M-1,0H2.4", "symbolSize": 400, "symbolStrokeWidth": 1.6,
  "labelFontSize": 16, "labelColor": "#000000", "labelOffset": 26.7, "columnPadding": 25, "rowPadding": 3.3,
  "padding": 3.5, "fillColor": "rgba(255,255,255,0.8)", "strokeColor": "#cccccc", "cornerRadius": 3}},
"order": {"field": "i", "type": "quantitative"}
}
}
